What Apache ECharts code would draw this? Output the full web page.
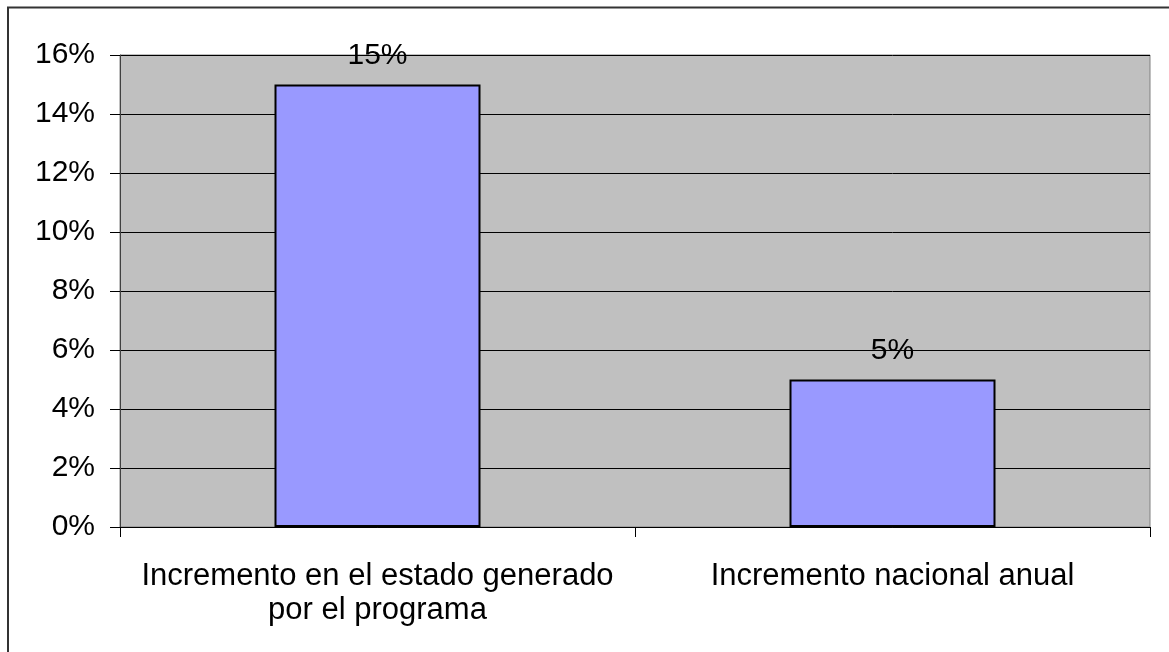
<!DOCTYPE html>
<html>
<head>
<meta charset="utf-8">
<script src="https://cdn.jsdelivr.net/npm/echarts@6/dist/echarts.min.js"></script>
<style>
  html, body { margin: 0; padding: 0; background: #fff; }
  #chart { width: 1169px; height: 652px; }
</style>
</head>
<body>
<div id="chart"></div>
<script>
const categories = ['Incremento en el estado generado\npor el programa', 'Incremento nacional anual'];
const values = [15, 5];
const yMin = 0;
const yMax = 16;
const yStep = 2;

const chart = echarts.init(document.getElementById('chart'));

chart.setOption({
  backgroundColor: '#ffffff',
  animation: false,
  textStyle: { fontFamily: 'Liberation Sans, Arial, sans-serif' },
  graphic: [
    {
      type: 'rect',
      silent: true,
      shape: { x: 8, y: 7.5, width: 1200, height: 700 },
      style: { fill: 'none', stroke: '#333333', lineWidth: 2 },
    },
  ],
  grid: {
    left: 120,
    right: 19,
    top: 55,
    bottom: 125,
    show: true,
    backgroundColor: '#C0C0C0',
    borderColor: '#808080',
    borderWidth: 1,
  },
  xAxis: {
    type: 'category',
    data: categories,
    axisLine: { lineStyle: { color: '#000', width: 1 } },
    axisTick: { show: true, length: 10, lineStyle: { color: '#000' } },
    axisLabel: {
      color: '#000',
      fontSize: 31,
      lineHeight: 34,
      margin: 32,
      interval: 0,
    },
  },
  yAxis: {
    type: 'value',
    min: yMin,
    max: yMax,
    interval: yStep,
    axisLine: { show: true, lineStyle: { color: '#404040', width: 1 } },
    axisTick: { show: true, length: 10, lineStyle: { color: '#000' } },
    axisLabel: { color: '#000', fontSize: 30, margin: 25, formatter: '{value}%' },
    splitLine: { show: true, lineStyle: { color: '#000', width: 1 } },
  },
  series: [
    {
      type: 'bar',
      data: values,
      barWidth: '40%',
      itemStyle: { color: '#9999FF', borderColor: '#000', borderWidth: 2 },
      label: {
        show: true,
        position: 'top',
        distance: 14,
        color: '#000',
        fontSize: 30,
        formatter: '{c}%',
      },
    },
  ],
});
</script>
</body>
</html>
